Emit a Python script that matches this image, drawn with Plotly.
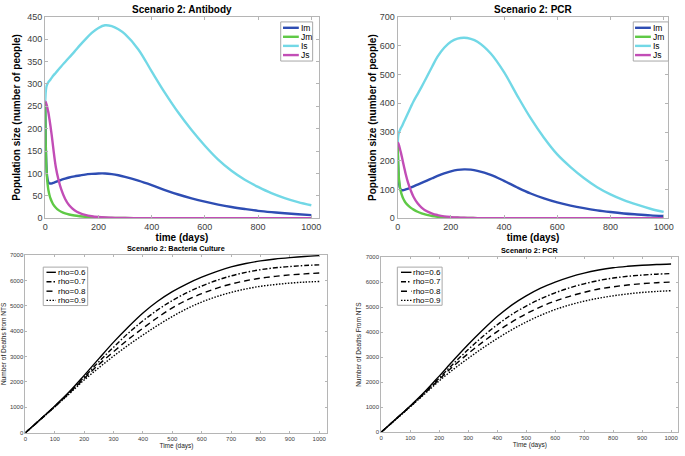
import plotly.graph_objects as go

# ---------------- data ----------------
t_top = [0, 1, 2, 4, 6, 9, 12, 16, 20, 25, 30, 40, 50, 60, 75, 90, 110, 130, 150, 175,
         200, 225, 250, 275, 300, 350, 400, 450, 500, 550, 600, 650, 700, 750, 800,
         850, 900, 950, 1000]

ab_Is = [260, 272, 282, 292, 297, 301, 304, 307, 310, 314, 318, 325, 332, 339, 349,
         359, 372, 386, 399, 414, 425, 431, 429, 422, 411, 377, 328, 280, 236, 197,
         162, 131, 106, 86, 70, 56, 45, 36, 29]
ab_Im = [260, 210, 170, 125, 100, 86, 80, 77.5, 77.5, 78, 79, 81, 83.5, 85.5, 88.5,
         91, 93.5, 95.5, 97.5, 99, 100, 100, 98.5, 96, 92.5, 84, 74, 63, 53, 44.5,
         37, 30.5, 25, 20.5, 16.5, 13.5, 11, 9, 7]
ab_Jm = [260, 205, 165, 120, 96, 76, 63, 52, 44, 37, 31, 23.5, 18, 14.5, 10.8,
         8.3, 6, 4.4, 3.2, 2.2, 1.5, 1, 0.7, 0.5, 0.35, 0.2, 0.1, 0, 0, 0,
         0, 0, 0, 0, 0, 0, 0, 0, 0]
ab_Js = [260, 260, 259, 256, 252, 244, 236, 221, 205, 183, 158, 114, 86, 65, 43,
         29, 18, 11.5, 7.5, 4.5, 2.7, 1.6, 1, 0.6, 0.4, 0.2, 0.1, 0, 0, 0,
         0, 0, 0, 0, 0, 0, 0, 0, 0]

pcr_Is = [260, 273, 284, 295, 301, 307, 313, 320, 328, 338, 348, 368, 388, 407, 432,
          457, 492, 528, 562, 593, 614, 625, 628, 624, 614, 573, 508, 426, 348, 280,
          222, 178, 140, 108, 83, 63, 47, 33, 22]
pcr_Im = [260, 218, 184, 142, 118, 104, 99, 97.5, 97.5, 98.5, 100, 103, 107, 111, 117,
          123, 131, 139, 147, 156, 163, 168, 170, 169, 165, 151, 130, 107, 86, 69,
          55, 44, 35, 27.5, 21.5, 16.5, 13, 10, 8]
pcr_Jm = [260, 220, 188, 150, 128, 107, 93, 80, 70, 61, 54, 44, 36, 30, 22.5,
          17, 11.5, 7.8, 5.3, 3.3, 2.1, 1.4, 0.9, 0.6, 0.4, 0.2, 0.1, 0, 0, 0,
          0, 0, 0, 0, 0, 0, 0, 0, 0]
pcr_Js = [262, 262, 261, 257, 251, 240, 229, 213, 196, 175, 155, 121, 95, 74, 52,
          37, 24, 16, 11, 6.5, 4, 2.4, 1.5, 0.9, 0.5, 0.2, 0.1, 0, 0, 0,
          0, 0, 0, 0, 0, 0, 0, 0, 0]

t_bot = [0, 50, 100, 150, 200, 250, 300, 350, 400, 450, 500, 550, 600, 650, 700, 750,
         800, 850, 900, 950, 1000]

bc_rho06 = [0, 520, 1050, 1620, 2260, 2920, 3570, 4170, 4720, 5180, 5560, 5870, 6130,
            6350, 6535, 6670, 6770, 6845, 6900, 6945, 6977]
bc_rho07 = [0, 515, 1040, 1590, 2190, 2800, 3370, 3920, 4410, 4840, 5210, 5520, 5780,
            6000, 6180, 6320, 6425, 6500, 6550, 6590, 6615]
bc_rho08 = [0, 510, 1030, 1570, 2140, 2690, 3190, 3680, 4120, 4540, 4920, 5230, 5480,
            5690, 5860, 5990, 6090, 6160, 6220, 6260, 6295]
bc_rho09 = [0, 505, 1015, 1540, 2080, 2560, 3020, 3450, 3850, 4230, 4580, 4890, 5150,
            5360, 5530, 5665, 5770, 5840, 5895, 5935, 5960]

pb_rho06 = [0, 520, 1045, 1610, 2240, 2880, 3500, 4080, 4620, 5080, 5450, 5760, 6000,
            6200, 6360, 6480, 6570, 6630, 6675, 6705, 6725]
pb_rho07 = [0, 515, 1035, 1580, 2160, 2750, 3300, 3820, 4290, 4700, 5040, 5330, 5570,
            5770, 5930, 6060, 6160, 6230, 6280, 6315, 6340]
pb_rho08 = [0, 510, 1025, 1555, 2110, 2650, 3140, 3600, 4020, 4400, 4730, 5010, 5240,
            5430, 5590, 5720, 5810, 5880, 5935, 5975, 6000]
pb_rho09 = [0, 505, 1010, 1530, 2050, 2520, 2950, 3360, 3740, 4090, 4400, 4670, 4900,
            5085, 5235, 5355, 5450, 5525, 5585, 5625, 5655]

top_names = ["Im", "Jm", "Is", "Js"]
rho_names = ["rho=0.6", "rho=0.7", "rho=0.8", "rho=0.9"]
titles = ["Scenario 2: Antibody", "Scenario 2: PCR",
          "Scenario 2: Bacteria Culture", "Scenario 2: PCR"]

# ---------------- styles ----------------
FONT = "Liberation Sans, Arial, Helvetica, sans-serif"
top_colors = ["#2E4DB3", "#5FC946", "#72D8E6", "#C24DB6"]
rho_dashes = ["solid", "5px,2px,1.5px,2px", "6px,4px", "1.5px,1.5px"]
TOP_LW, BOT_LW = 2.4, 1.4
W, H = 685, 456

fig = go.Figure()

for ax, series in [("", [ab_Im, ab_Jm, ab_Is, ab_Js]),
                   ("2", [pcr_Im, pcr_Jm, pcr_Is, pcr_Js])]:
    for name, col, ys in zip(top_names, top_colors, series):
        fig.add_trace(go.Scatter(x=t_top, y=ys, name=name, mode="lines", showlegend=False,
                                 line=dict(color=col, width=TOP_LW, shape="spline", smoothing=1),
                                 xaxis="x" + ax, yaxis="y" + ax))

for ax, series in [("3", [bc_rho06, bc_rho07, bc_rho08, bc_rho09]),
                   ("4", [pb_rho06, pb_rho07, pb_rho08, pb_rho09])]:
    for name, dash, ys in zip(rho_names, rho_dashes, series):
        fig.add_trace(go.Scatter(x=t_bot, y=ys, name=name, mode="lines", showlegend=False,
                                 line=dict(color="black", width=BOT_LW, dash=dash,
                                           shape="spline", smoothing=1),
                                 xaxis="x" + ax, yaxis="y" + ax))


def px_dom_x(a, b):
    return [a / W, b / W]


def px_dom_y(top, bottom):
    return [1 - bottom / H, 1 - top / H]


common = dict(showgrid=False, zeroline=False, showline=True, linecolor="#b5b5b5",
              linewidth=1, mirror="ticks", ticks="inside", tickcolor="#b5b5b5")

top_tick = dict(size=9, color="#404040", family=FONT)
top_title_font = dict(size=10, color="black", family=FONT, weight="bold")
fig.update_layout(
    xaxis=dict(domain=px_dom_x(42.7, 319.5), range=[0, 1028], anchor="y",
               tickvals=[0, 200, 400, 600, 800, 1000], ticklen=3, tickfont=top_tick,
               title=dict(text="time (days)", font=top_title_font, standoff=2), **common),
    yaxis=dict(domain=px_dom_y(12, 218), range=[0, 450], anchor="x",
               tickvals=list(range(0, 451, 50)), ticklen=3, tickfont=top_tick,
               title=dict(text="Population size (number of people)", font=top_title_font,
                          standoff=4), **common),
    xaxis2=dict(domain=px_dom_x(399.3, 673.3), range=[0, 1018], anchor="y2",
                tickvals=[0, 200, 400, 600, 800, 1000], ticklen=3, tickfont=top_tick,
                title=dict(text="time (days)", font=top_title_font, standoff=2), **common),
    yaxis2=dict(domain=px_dom_y(12.3, 218), range=[0, 700], anchor="x2",
                tickvals=list(range(0, 701, 100)), ticklen=3, tickfont=top_tick,
                title=dict(text="Population size (number of people)", font=top_title_font,
                           standoff=1), **common),
)

bot_tick = dict(size=6, color="#404040", family=FONT)
bot_title_font = dict(size=6.5, color="#222222", family=FONT)
fig.update_layout(
    xaxis3=dict(domain=px_dom_x(22.7, 328.3), range=[0, 1028], anchor="y3",
                tickvals=list(range(0, 1001, 100)), ticklen=2, tickfont=bot_tick,
                title=dict(text="Time (days)", font=bot_title_font, standoff=1), **common),
    yaxis3=dict(domain=px_dom_y(255.7, 437.3), range=[0, 7000], anchor="x3",
                tickvals=list(range(0, 7001, 1000)), ticklen=2, tickfont=bot_tick,
                title=dict(text="Number of Deaths from NTS", font=bot_title_font, standoff=2),
                **common),
    xaxis4=dict(domain=px_dom_x(382.7, 683.3), range=[0, 1025], anchor="y4",
                tickvals=list(range(0, 1001, 100)), ticklen=2, tickfont=bot_tick,
                title=dict(text="Time (days)", font=bot_title_font, standoff=1), **common),
    yaxis4=dict(domain=px_dom_y(257.7, 436.7), range=[0, 7000], anchor="x4",
                tickvals=list(range(0, 7001, 1000)), ticklen=2, tickfont=bot_tick,
                title=dict(text="Number of Deaths From NTS", font=bot_title_font, standoff=3),
                **common),
)

for i, (txt, sz) in enumerate(zip(titles, [10, 10, 7.3, 7.3])):
    suffix = "" if i == 0 else str(i + 1)
    fig.add_annotation(text="<b>" + txt + "</b>", xref="x" + suffix + " domain",
                       yref="y" + suffix + " domain", x=0.5, y=1, xanchor="center",
                       yanchor="bottom", showarrow=False,
                       font=dict(size=sz, color="black", family=FONT))


# ---------------- compact MATLAB-style legends (pixel layout) ----------------
def px(x, y):
    return x / W, 1 - y / H


def add_legend(box, sample_x, text_x, rows_y, names, line_styles, fsize):
    x0, y0, x1, y1 = box
    a, b = px(x0, y0)
    c, d = px(x1, y1)
    fig.add_shape(type="rect", xref="paper", yref="paper", x0=a, y0=d, x1=c, y1=b,
                  line=dict(color="#a8a8a8", width=1), fillcolor="white", layer="above")
    for yy, nm, st in zip(rows_y, names, line_styles):
        sx0, sy = px(sample_x[0], yy)
        sx1, _ = px(sample_x[1], yy)
        fig.add_shape(type="line", xref="paper", yref="paper", x0=sx0, x1=sx1,
                      y0=sy, y1=sy, line=st, layer="above")
        tx, _ = px(text_x, yy)
        fig.add_annotation(text=nm, xref="paper", yref="paper", x=tx, y=sy,
                           xanchor="left", yanchor="middle", showarrow=False,
                           font=dict(size=fsize, color="black", family=FONT))


top_styles = [dict(color=c, width=TOP_LW) for c in top_colors]
bot_styles = [dict(color="black", width=BOT_LW, dash=d) for d in rho_dashes]

add_legend((281, 17.3, 313.3, 57.3), (283.3, 299.3), 299.5,
           [23.3, 32.5, 41.8, 51.2], top_names, top_styles, 8.5)
add_legend((637.7, 17.3, 673.3, 57.3), (639.5, 655.5), 655.8,
           [23.3, 32.5, 41.8, 51.2], top_names, top_styles, 8.5)
add_legend((40.7, 268, 85.7, 307.3), (44, 53.5), 53.5,
           [273.3, 283, 292.6, 302], rho_names, bot_styles, 8)
add_legend((399, 268, 444.3, 307), (402.7, 413.3), 413.3,
           [273.3, 283, 292.6, 302], rho_names, bot_styles, 8)

fig.update_layout(width=W, height=H, margin=dict(l=0, r=0, t=0, b=0),
                  paper_bgcolor="white", plot_bgcolor="white",
                  font=dict(family=FONT), showlegend=False)

fig.write_html("out.html", config={"displayModeBar": False},
               post_script="document.body.style.margin='0';"
                           "document.body.style.padding='0';"
                           "document.body.style.overflow='hidden';")
